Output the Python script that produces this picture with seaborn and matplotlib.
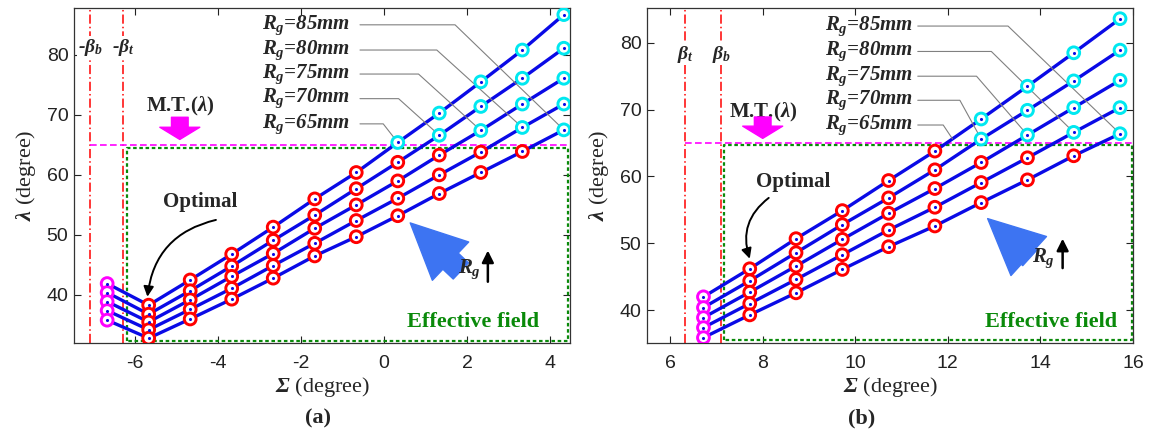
import numpy as np
import pandas as pd
import matplotlib
matplotlib.use("Agg")
import matplotlib.pyplot as plt
import seaborn as sns

# line order: top line first (Rg = 65mm) to bottom line (Rg = 85mm)
rg_names = ["65mm", "70mm", "75mm", "80mm", "85mm"]

sigma_a = [-6.67, -5.67, -4.67, -3.67, -2.67, -1.67, -0.67, 0.33, 1.33, 2.33, 3.33, 4.33]
lam_a = [
    [41.9, 38.3, 42.5, 46.8, 51.3, 56.0, 60.4, 65.4, 70.3, 75.5, 80.8, 86.7],
    [40.4, 36.8, 40.7, 44.8, 49.1, 53.3, 57.7, 62.1, 66.6, 71.4, 76.1, 81.1],
    [38.9, 35.5, 39.2, 43.1, 46.9, 51.1, 55.0, 59.0, 63.3, 67.4, 71.8, 76.1],
    [37.4, 34.2, 37.6, 41.1, 44.9, 48.6, 52.4, 56.1, 60.0, 63.8, 67.9, 71.8],
    [35.8, 32.8, 36.0, 39.3, 42.8, 46.5, 49.7, 53.2, 56.9, 60.4, 63.9, 67.5],
]

sigma_b = [6.72, 7.72, 8.72, 9.72, 10.72, 11.72, 12.72, 13.72, 14.72, 15.72]
lam_b = [
    [42.0, 46.2, 50.7, 54.9, 59.4, 63.8, 68.6, 73.5, 78.5, 83.6],
    [40.4, 44.4, 48.6, 52.8, 56.8, 61.0, 65.6, 69.9, 74.3, 78.9],
    [38.9, 42.7, 46.6, 50.6, 54.5, 58.2, 62.1, 66.2, 70.3, 74.4],
    [37.4, 41.0, 44.6, 48.3, 52.0, 55.4, 59.1, 62.8, 66.6, 70.3],
    [35.9, 39.3, 42.6, 46.1, 49.5, 52.6, 56.1, 59.5, 63.1, 66.4],
]

mt_limit = 65.0          # M.T.(lambda)
beta_a = [-7.08, -6.28]  # -beta_b, -beta_t
beta_b = [6.32, 7.10]    # beta_t, beta_b
field_a = [-6.2, 4.43, 32.4, 64.4]
field_b = [7.17, 15.97, 35.6, 64.7]

sns.set_style("ticks")
plt.rcParams["font.family"] = ["Liberation Sans", "DejaVu Sans"]
plt.rcParams["axes.unicode_minus"] = False
plt.rcParams["mathtext.fontset"] = "custom"
plt.rcParams["mathtext.rm"] = "Liberation Serif"
plt.rcParams["mathtext.it"] = "Liberation Serif:italic:bold"
plt.rcParams["mathtext.bf"] = "Liberation Serif:bold"
plt.rcParams["mathtext.sf"] = "Liberation Serif:italic:bold"
SERIF = ["Liberation Serif", "DejaVu Serif"]

BLUE = "#0a0ae6"
ARROW_BLUE = "#3d74f2"
GREEN = "#0a8a0a"


def long_df(sigma, lam):
    rows = []
    for i, name in enumerate(rg_names):
        for j, s in enumerate(sigma):
            rows.append({"sigma": s, "lam": lam[i][j], "Rg": name, "col": j})
    return pd.DataFrame(rows)


def draw_panel(ax, sigma, lam, xlim, ylim, xticks, yticks, betas, beta_txt, beta_y,
               field, text_x, lead_x0, text_y, elbows, ends, opt, mt, big_arrow, rg_mark,
               eff_xy):
    df = long_df(sigma, lam)
    sns.lineplot(data=df, x="sigma", y="lam", hue="Rg", palette=[BLUE] * 5, sort=False,
                 estimator=None, legend=False, lw=2.4, ax=ax, zorder=2)
    cols = ["#ff00ff" if c == 0 else ("#00e8f0" if v > mt_limit else "#ff0000")
            for c, v in zip(df["col"], df["lam"])]
    ax.scatter(df["sigma"], df["lam"], s=72, facecolors="white", edgecolors=cols,
               linewidths=2.1, zorder=4)
    ax.scatter(df["sigma"], df["lam"], s=5, color=BLUE, zorder=5, linewidths=0)

    # limit lines
    for b, t in zip(betas, beta_txt):
        ax.axvline(b, color="red", lw=1.1, ls=(0, (6, 2, 1, 2)), zorder=1)
        ax.text(b, beta_y, t, ha="center", va="center", family=SERIF, fontsize=14,
                fontweight="bold", fontstyle="italic", zorder=6,
                bbox=dict(fc="white", ec="none", pad=0.5))
    ax.plot([min(betas), xlim[1]], [mt_limit, mt_limit], color="#ff00ff", lw=1.2,
            ls=(0, (4, 2)), zorder=1)
    x0, x1, y0, y1 = field
    ax.plot([x0, x0, x1, x1, x0], [y0, y1, y1, y0, y0], color=GREEN, lw=1.6,
            ls=(0, (1.6, 1.2)), zorder=1)
    ax.text(eff_xy[0], eff_xy[1], "Effective field", color=GREEN, family=SERIF,
            fontsize=16, fontweight="bold", ha="right", va="center")

    # Rg labels with leader lines
    for i, name in enumerate(rg_names):
        ax.text(text_x, text_y[i], "$R_g$=" + name, ha="right", va="center",
                family=SERIF, fontsize=15, fontweight="bold", fontstyle="italic")
        ex, ey = ends[i]
        ax.plot([lead_x0, elbows[i], ex], [text_y[i], text_y[i], ey], color="#808080",
                lw=0.8, zorder=3)

    # M.T. arrow
    ax.text(mt[0], mt[1], r"M.T.($\lambda$)", ha="center", va="center", family=SERIF,
            fontsize=15, fontweight="bold")
    ax.annotate("", xy=(mt[0], mt[2]), xytext=(mt[0], mt[3]),
                arrowprops=dict(arrowstyle="simple,head_width=1.8,head_length=0.55,tail_width=0.75",
                                color="#ff00ff", mutation_scale=16, shrinkA=0, shrinkB=0))

    # Optimal arrow
    ax.text(opt[0], opt[1], "Optimal", ha="center", va="center", family=SERIF,
            fontsize=15, fontweight="bold")
    ax.annotate("", xy=(opt[4], opt[5]), xytext=(opt[2], opt[3]),
                arrowprops=dict(arrowstyle="-|>,head_width=0.3,head_length=0.6",
                                color="black", lw=1.4, shrinkA=0, shrinkB=0,
                                connectionstyle="arc3,rad=0.35"))

    # big blue arrow and Rg up
    ax.annotate("", xy=big_arrow[:2], xytext=big_arrow[2:],
                arrowprops=dict(arrowstyle="simple,head_width=1.9,head_length=2.0,tail_width=0.8",
                                color=ARROW_BLUE, mutation_scale=20, shrinkA=0, shrinkB=0))
    ax.text(rg_mark[0], rg_mark[1], "$R_g$", ha="center", va="center", family=SERIF,
            fontsize=15)
    ax.annotate("", xy=(rg_mark[2], rg_mark[4]), xytext=(rg_mark[2], rg_mark[3]),
                arrowprops=dict(arrowstyle="-|>,head_width=0.35,head_length=0.7",
                                color="black", lw=1.8, shrinkA=0, shrinkB=0))

    ax.set_xlim(xlim)
    ax.set_ylim(ylim)
    ax.set_xticks(xticks)
    ax.set_yticks(yticks)
    ax.tick_params(direction="in", top=True, right=True, length=5, width=0.8,
                   labelsize=14, colors="#222222")
    ax.tick_params(axis="x", pad=9)
    ax.tick_params(axis="y", pad=4)
    for sp in ax.spines.values():
        sp.set_visible(True)
        sp.set_color("#333333")
        sp.set_linewidth(0.9)
    ax.set_xlabel(r"$\mathsf{Σ}$ (degree)", family=SERIF, fontsize=16, labelpad=2)
    ax.set_ylabel(r"$\lambda$ (degree)", family=SERIF, fontsize=16, labelpad=6)


fig = plt.figure(figsize=(11.5, 4.4), dpi=100)
ax1 = fig.add_axes([0.0643, 0.2205, 0.4314, 0.7613])
ax2 = fig.add_axes([0.5626, 0.2205, 0.4226, 0.7613])

ends_a = [(sigma_a[7 + i], lam_a[i][7 + i]) for i in range(5)]
draw_panel(ax1, sigma_a, lam_a, (-7.47, 4.48), (32, 87.8), [-6, -4, -2, 0, 2, 4],
           [40, 50, 60, 70, 80], beta_a, [r"-$\beta_b$", r"-$\beta_t$"], 81.3,
           field_a, -0.82, -0.58, [68.5, 72.7, 76.8, 80.8, 85.0],
           [-0.02, 0.35, 0.83, 1.27, 1.71], ends_a,
           (-4.43, 55.5, -4.05, 52.5, -5.7, 39.7), (-4.92, 71.4, 65.9, 69.6),
           (0.63, 52.0, 1.85, 44.0), (2.05, 44.3, 2.5, 42.2, 47.4), (3.73, 35.5))

end0_b = (12.1, float(np.interp(12.1, sigma_b, lam_b[0])))
ends_b = [end0_b] + [(sigma_b[5 + i], lam_b[i][5 + i]) for i in range(1, 5)]
draw_panel(ax2, sigma_b, lam_b, (5.5, 16.0), (35.1, 85.2), [6, 8, 10, 12, 14, 16],
           [40, 50, 60, 70, 80], beta_b, [r"$\beta_t$", r"$\beta_b$"], 78.3,
           field_b, 11.24, 11.35, [67.7, 71.4, 75.0, 78.7, 82.5],
           [11.9, 12.26, 12.62, 12.94, 13.3], ends_b,
           (8.65, 59.2, 8.13, 56.8, 7.72, 47.7), (8.0, 69.5, 65.7, 68.9),
           (12.86, 53.7, 13.78, 47.9), (14.07, 47.7, 14.48, 46.3, 50.7), (15.65, 38.2))

fig.text(318 / 1150, 1 - 418 / 440, "(a)", ha="center", va="center", family=SERIF,
         fontsize=16, fontweight="bold")
fig.text(862 / 1150, 1 - 418 / 440, "(b)", ha="center", va="center", family=SERIF,
         fontsize=16, fontweight="bold")

fig.savefig("out.png", dpi=100)
